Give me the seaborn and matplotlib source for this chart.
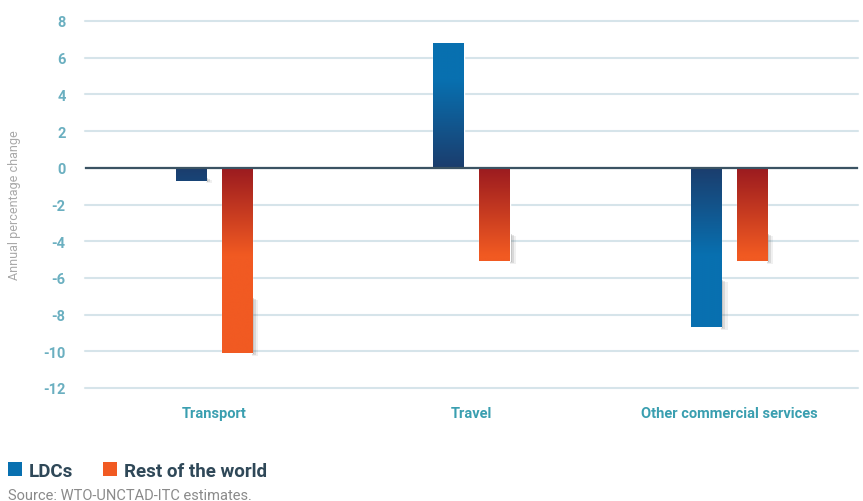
import numpy as np
import pandas as pd
import matplotlib
matplotlib.use("Agg")
import matplotlib.pyplot as plt
import seaborn as sns
from matplotlib.colors import LinearSegmentedColormap
from matplotlib.patches import Patch

categories = ["Transport", "Travel", "Other commercial services"]
series = ["LDCs", "Rest of the world"]
ldcs = [-0.7, 6.8, -8.7]
rest_of_world = [-10.1, -5.1, -5.1]
yticks = [8, 6, 4, 2, 0, -2, -4, -6, -8, -10, -12]

df = pd.DataFrame({
    "category": categories * 2,
    "series": [series[0]] * 3 + [series[1]] * 3,
    "value": ldcs + rest_of_world,
})

base_colors = {"LDCs": "#0870b0", "Rest of the world": "#f15a22"}
dark_colors = {"LDCs": "#1b3d6d", "Rest of the world": "#9a1a1f"}

sns.set_style("white")
plt.rcParams['font.family'] = ['Roboto', 'DejaVu Sans']

fig = plt.figure(figsize=(8.63, 5.02), dpi=100)
ax = fig.add_axes([85/863, (502-389)/502, (858-85)/863, (389-22)/502])

sns.barplot(data=df, x="category", y="value", hue="series", order=categories,
            hue_order=series, palette=base_colors, saturation=1, width=0.356, gap=0.34,
            legend=False, ax=ax, zorder=3)

ax.set_ylim(-12, 8)
ax.set_xlim(-0.5, 2.5)

GLEN = 4.8
# gradient overlay over whole bar (dark at zero line), plus a soft shadow at the far end
for container, s in zip(ax.containers, series):
    cmap = LinearSegmentedColormap.from_list("g", [dark_colors[s], base_colors[s]])
    for bar in container:
        x0 = bar.get_x(); w = bar.get_width(); h = bar.get_height()
        n = 400
        dist = np.linspace(0, abs(h), n)
        t = np.clip(dist / GLEN, 0, 1).reshape(-1, 1)
        if h < 0:
            img = ax.imshow(t, cmap=cmap, vmin=0, vmax=1, extent=(x0, x0 + w, h, 0),
                            aspect="auto", origin="upper", zorder=3.5, interpolation="bilinear")
        else:
            img = ax.imshow(t, cmap=cmap, vmin=0, vmax=1, extent=(x0, x0 + w, 0, h),
                            aspect="auto", origin="lower", zorder=3.5, interpolation="bilinear")
        img.set_clip_path(bar)
        if h < 0:
            slen = abs(h) * 0.3
            for k, (ww, a) in enumerate([(0.024, 0.07), (0.016, 0.12), (0.008, 0.2)]):
                ax.add_patch(plt.Rectangle((x0 + w, h - 0.15 * (3 - k) / 3), ww, slen,
                                           color="#333333", alpha=a, zorder=2.5, lw=0))

ax.set_xlim(-0.5, 2.5)
ax.set_ylim(-12, 8)

ax.set_yticks(yticks)
ax.set_yticklabels([str(t) for t in yticks], color="#6aafc0", fontweight="bold", fontsize=10.5)
ax.yaxis.grid(True, color="#d6e4ea", linewidth=1.5, zorder=0)
ax.set_axisbelow(True)
ax.axhline(0, color="#3b5363", linewidth=1.6, zorder=4)
ax.tick_params(axis="y", length=0, pad=14)
ax.tick_params(axis="x", length=0, pad=13)
ax.set_xticks(range(3))
ax.set_xticklabels(categories, color="#3a9fb0", fontweight="bold", fontsize=10.5)
ax.set_xlabel("")
ax.set_ylabel("Annual percentage change", color="#a9a9a9", fontsize=9, labelpad=16)
for sp in ax.spines.values():
    sp.set_visible(False)
for line in ax.get_ygridlines():
    line.set_clip_on(False)

handles = [Patch(facecolor=base_colors[s], edgecolor="none") for s in series]
fig.legend(handles, series, loc="lower left", bbox_to_anchor=(0.005, 0.035), ncol=2,
           frameon=False, handlelength=0.75, handleheight=0.75, handletextpad=0.35,
           columnspacing=1.6, borderaxespad=0.0, borderpad=0.2,
           prop={"weight": "bold", "size": 13.5}, labelcolor="#2f4858")
fig.text(8/863, 1 - 496/502, "Source: WTO-UNCTAD-ITC estimates.", color="#8a8a8a",
         fontsize=10.5, va="center", ha="left")

fig.savefig("out.png", dpi=100)
